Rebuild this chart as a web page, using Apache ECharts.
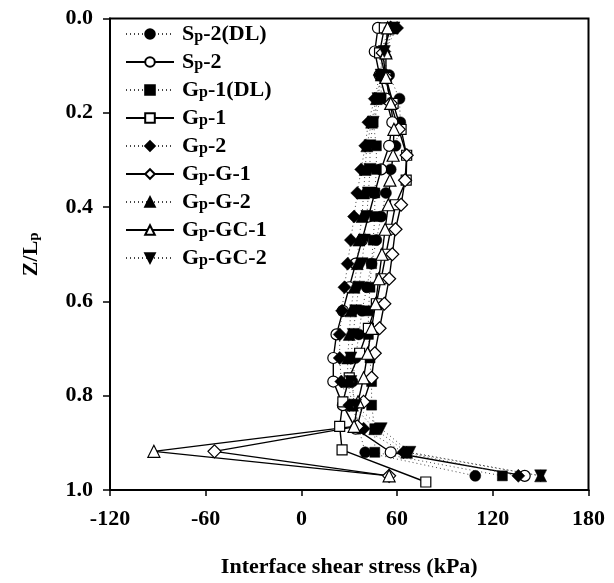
<!DOCTYPE html>
<html>
<head>
<meta charset="utf-8">
<script src="https://cdn.jsdelivr.net/npm/echarts@6/dist/echarts.min.js"></script>
<style>
  html, body { margin: 0; padding: 0; background: #fff; }
  #chart { width: 614px; height: 583px; }
</style>
</head>
<body>
<div id="chart"></div>
<script>
// Normalised depth Z/Lp of the gauges
const depthA = [0.02, 0.07, 0.12, 0.17, 0.22, 0.27, 0.32, 0.37, 0.42, 0.47,
                0.52, 0.57, 0.62, 0.67, 0.72, 0.77, 0.82, 0.87, 0.92, 0.97];
const depthB = [0.02, 0.073, 0.125, 0.18, 0.235, 0.29, 0.343, 0.395, 0.447, 0.5,
                0.552, 0.605, 0.657, 0.71, 0.762, 0.813, 0.865, 0.918, 0.97];
const depthGp1 = [0.02, 0.073, 0.125, 0.18, 0.235, 0.29, 0.343, 0.395, 0.447, 0.5,
                  0.552, 0.605, 0.657, 0.71, 0.762, 0.813, 0.865, 0.915, 0.983];

// Interface shear stress (kPa)
const sp2DL  = [56, 50, 55, 61.5, 62, 59, 56, 53, 50, 47, 44, 41, 38, 36, 34, 32, 33, 36, 40, 109];
const sp2    = [48, 46, 49, 53, 57, 55, 50, 46, 42, 38, 34, 30, 26, 22, 20, 20, 26, 34, 56, 140];
const gp1DL  = [55, 50, 50, 50, 45, 47, 47, 46, 46, 45, 44, 43, 42, 42, 43, 44, 44, 46, 46, 126];
const gp1    = [52, 49, 53, 57.5, 62.5, 66, 65.7, 59, 56, 53, 50, 47, 42, 36.5, 30, 26, 24, 25.5, 78];
const gp2    = [60, 52, 49, 46, 42, 40, 37.5, 35, 33, 31, 29, 27, 25.5, 24, 24, 25, 30, 39, 64, 136];
const gpG1   = [56, 51, 53, 56, 61, 66, 65, 62.5, 59, 57, 55, 52, 49, 46, 44, 39, 35, -54.5, 55];
const gpG2   = [57, 53, 50, 47, 44, 41, 40, 39, 38, 36, 35, 33, 31, 30, 29, 29, 32, 46, 66, 150];
const gpGC1  = [54, 53, 53, 56, 58, 57.5, 55.5, 54.5, 52.5, 50.5, 48.5, 46.5, 44, 41.5, 39, 35.5, 33, -92.5, 55];
const gpGC2  = [58, 52, 50, 48, 45, 43, 43, 42, 41, 39.5, 38, 36, 34, 32.5, 31, 31, 34, 50, 68, 150];

const seriesNames = ['Sp-2(DL)', 'Sp-2', 'Gp-1(DL)', 'Gp-1', 'Gp-2', 'Gp-G-1', 'Gp-G-2', 'Gp-GC-1', 'Gp-GC-2'];
const xTicks = [-120, -60, 0, 60, 120, 180];
const yTicks = [0.0, 0.2, 0.4, 0.6, 0.8, 1.0];

const FONT = '"Liberation Serif", "Times New Roman", serif';
const FS = 22;

function pairs(xs, zs) { return xs.map((v, i) => [v, zs[i]]); }

// marker / line look per series: filled markers on dotted lines, open markers on solid lines
const looks = [
  { x: sp2DL, z: depthA,   symbol: 'circle',   size: 11, filled: true },
  { x: sp2,   z: depthA,   symbol: 'circle',   size: 11, filled: false },
  { x: gp1DL, z: depthA,   symbol: 'rect',     size: 10, filled: true },
  { x: gp1,   z: depthGp1, symbol: 'rect',     size: 10, filled: false },
  { x: gp2,   z: depthA,   symbol: 'diamond',  size: 13, filled: true },
  { x: gpG1,  z: depthB,   symbol: 'diamond',  size: 13, filled: false },
  { x: gpG2,  z: depthA,   symbol: 'triangle', size: 12, filled: true },
  { x: gpGC1, z: depthB,   symbol: 'triangle', size: 12, filled: false },
  { x: gpGC2, z: depthA,   symbol: 'triangle', size: 12, filled: true, rotate: 180 }
];

const series = looks.map((s, i) => ({
  name: seriesNames[i],
  type: 'line',
  data: pairs(s.x, s.z),
  symbol: s.symbol,
  symbolSize: s.size,
  symbolRotate: s.rotate || 0,
  showAllSymbol: true,
  animation: false,
  lineStyle: s.filled
    ? { color: '#444', width: 1, type: [1, 3] }
    : { color: '#000', width: 1.4, type: 'solid' },
  itemStyle: s.filled
    ? { color: '#000', borderColor: '#000', borderWidth: 0.5 }
    : { color: '#fff', borderColor: '#000', borderWidth: 1.2 },
  emphasis: { disabled: true }
}));

function richName(name) {
  return name.replace(/^([SG])p(.*)$/, '{b|$1}{s|p}{b|$2}');
}

const chart = echarts.init(document.getElementById('chart'), null, { renderer: 'canvas' });
chart.setOption({
  backgroundColor: '#fff',
  animation: false,
  grid: {
    left: 110, right: 25.5, top: 18.5, bottom: 87,
    show: true, borderColor: '#000', borderWidth: 2, backgroundColor: 'transparent'
  },
  legend: {
    orient: 'vertical',
    left: 120, top: 18,
    itemWidth: 48, itemHeight: 12, itemGap: 6,
    data: seriesNames,
    formatter: richName,
    textStyle: {
      padding: [0, 0, 0, 3],
      rich: {
        b: { fontFamily: FONT, fontWeight: 'bold', fontSize: FS, color: '#000' },
        s: { fontFamily: FONT, fontWeight: 'bold', fontSize: 16, color: '#000', verticalAlign: 'bottom' }
      }
    }
  },
  xAxis: {
    type: 'value',
    min: xTicks[0], max: xTicks[xTicks.length - 1], interval: 60,
    name: 'Interface shear stress (kPa)',
    nameLocation: 'middle', nameGap: 66,
    nameTextStyle: { fontFamily: FONT, fontWeight: 'bold', fontSize: FS, color: '#000' },
    axisLine: { onZero: false, lineStyle: { color: '#000', width: 2 } },
    axisTick: { inside: false, length: 6, lineStyle: { color: '#000', width: 1.5 } },
    axisLabel: { margin: 18, fontFamily: FONT, fontWeight: 'bold', fontSize: FS, color: '#000' },
    splitLine: { show: false }
  },
  yAxis: {
    type: 'value',
    inverse: true,
    min: yTicks[0], max: yTicks[yTicks.length - 1], interval: 0.2,
    name: '{b|Z/L}{s|p}',
    nameLocation: 'middle', nameGap: 68,
    nameTextStyle: {
      rich: {
        b: { fontFamily: FONT, fontWeight: 'bold', fontSize: FS, color: '#000' },
        s: { fontFamily: FONT, fontWeight: 'bold', fontSize: 15, color: '#000', verticalAlign: 'bottom', padding: [7, 0, 0, 0] }
      }
    },
    axisLine: { onZero: false, lineStyle: { color: '#000', width: 2 } },
    axisTick: { inside: false, length: 7, lineStyle: { color: '#000', width: 1.5 } },
    axisLabel: {
      margin: 17, fontFamily: FONT, fontWeight: 'bold', fontSize: FS, color: '#000',
      formatter: v => v.toFixed(1)
    },
    splitLine: { show: false }
  },
  series: series
});
</script>
</body>
</html>
